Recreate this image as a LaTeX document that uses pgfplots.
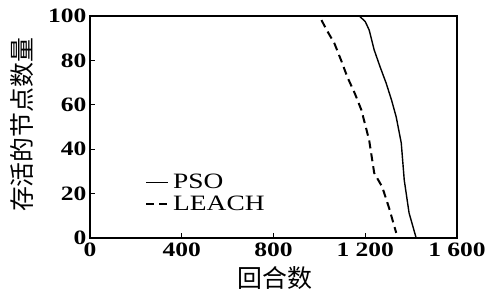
\documentclass[border=0pt]{standalone}
\usepackage{pgfplots}
\pgfplotsset{compat=1.18}
\usepackage{fontspec}
\setmainfont{Liberation Serif}
\newfontfamily\wide[FakeStretch=1.25]{Liberation Serif}
\newfontfamily\cjk{Noto Sans CJK SC}
\begin{document}
\begin{tikzpicture}
\begin{axis}[
  scale only axis,
  width=367bp, height=222bp,
  xmin=0, xmax=1600, ymin=0, ymax=100,
  xtick={0,400,800,1200,1600},
  xticklabels={0,400,800,1\hspace{0.3em}200,1\hspace{0.3em}600},
  ytick={0,20,40,60,80,100},
  tick align=inside,
  xtick pos=bottom, ytick pos=left,
  major tick length=5bp,
  axis line style={line width=1.5pt},
  tick style={line width=1pt, black},
  /pgf/number format/assume math mode=true,
  xticklabel style={font=\wide\bfseries\fontsize{20.5}{21}\selectfont, yshift=-1bp},
  yticklabel style={font=\wide\bfseries\fontsize{20.5}{21}\selectfont, xshift=0bp},
  xlabel={\cjk\fontsize{25}{26}\selectfont 回合数},
  ylabel={\cjk\fontsize{25}{26}\selectfont 存活的节点数量},
  every axis x label/.style={at={(axis description cs:0.504,-0.18)}, anchor=center},
  every axis y label/.style={at={(axis description cs:-0.185,0.51)}, rotate=90, anchor=center},
  legend style={at={(axis description cs:0.15,0.29)}, anchor=north west, draw=none, fill=none,
    font=\wide\fontsize{22}{22}\selectfont, row sep=5bp, inner sep=0pt,
    nodes={inner xsep=4bp, inner ysep=0.5bp}},
  legend cell align=left,
  legend image code/.code={\draw[#1] (0bp,0bp) -- (22bp,0bp);},
]
\addplot[black, line width=1.4bp] coordinates {
(0,100) (1174,100) (1200,97.5) (1217,93.7) (1239,84.7) (1265,77) (1291,69.8) (1315,62) (1335,54.5) (1357,42.8) (1370,26.1) (1391,11.3) (1422,0)};
\addlegendentry{PSO}
\addplot[black, line width=2bp, dash pattern=on 8bp off 5bp] coordinates {
(0,100) (1000,100) (1030,94) (1065,87.8) (1095,80) (1122,72.5) (1155,65) (1183,57.7) (1217,44.1) (1239,29.3) (1274,23) (1304,13.5) (1335,2.3)};
\addlegendentry{LEACH}
\end{axis}
\pgfresetboundingbox
\useasboundingbox (-90bp,-60bp) rectangle (409bp,238bp);
\end{tikzpicture}
\end{document}
